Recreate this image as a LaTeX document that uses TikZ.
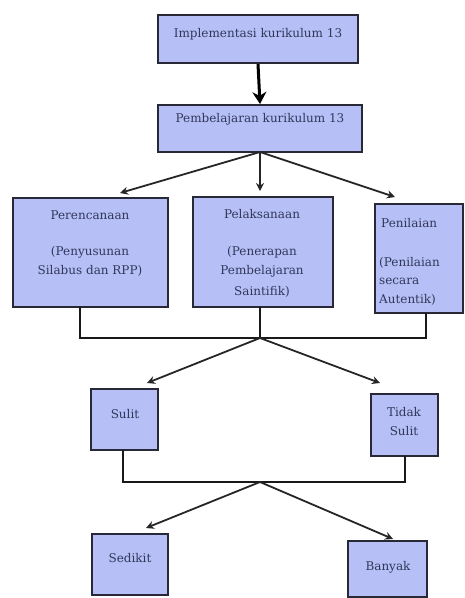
\documentclass[tikz,border=0pt]{standalone}
\usepackage{fontspec}
\setmainfont{DejaVu Serif}
\usetikzlibrary{arrows.meta,positioning}
\definecolor{boxfill}{RGB}{182,192,246}
\definecolor{boxline}{RGB}{40,40,55}
\definecolor{txt}{RGB}{50,55,90}
\tikzset{
  box/.style={draw=boxline,line width=2pt,fill=boxfill,inner sep=0pt},
  lbl/.style={text=txt,font=\fontsize{12}{14}\selectfont,inner sep=0pt,anchor=base},
  arr/.style={draw=black!85,line width=1.8pt,-{Stealth[length=8pt,width=8pt]}},
  bigarr/.style={draw=black,line width=3pt,-{Stealth[length=12pt,width=14pt]}},
  brk/.style={draw=black!90,line width=2.8pt,line cap=rect}
}
\newcommand{\bx}[5]{\node[box,minimum width=#4pt-#2pt,minimum height=#5pt-#3pt] (#1) at ({(#2+#4)/2},{(#3+#5)/2}) {};}
\begin{document}
\begin{tikzpicture}[x=1pt,y=-1pt]
\useasboundingbox (0,0) rectangle (465,598);
% boxes
\bx{impl}{158}{15}{358}{63}
\bx{pemb}{158}{105}{362}{152}
\bx{pere}{13}{198}{168}{307}
\bx{pela}{193}{197}{333}{307}
\bx{peni}{375}{204}{463}{313}
\bx{sulit}{91}{389}{158}{450}
\bx{tidak}{371}{394}{438}{456}
\bx{sedikit}{92}{534}{168}{595}
\bx{banyak}{348}{541}{427}{597}
% texts
\node[lbl] (t1) at (258,37) {Implementasi kurikulum 13};
\node[lbl] (t2) at (260,122) {Pembelajaran kurikulum 13};
\node[lbl] (t3a) at (90,219) {Perencanaan};
\node[lbl] (t3b) at (90,255) {(Penyusunan};
\node[lbl] (t3c) at (90,274) {Silabus dan RPP)};
\node[lbl] (t4a) at (262,218) {Pelaksanaan};
\node[lbl] (t4b) at (262,255) {(Penerapan};
\node[lbl] (t4c) at (262,274) {Pembelajaran};
\node[lbl] (t4d) at (262,295) {Saintifik)};
\node[lbl,anchor=base west] (t5a) at (381,227) {Penilaian};
\node[lbl,anchor=base west] (t5b) at (379,266) {(Penilaian};
\node[lbl,anchor=base west] (t5c) at (379,284) {secara};
\node[lbl,anchor=base west] (t5d) at (379,303) {Autentik)};
\node[lbl] (t6) at (125,418) {Sulit};
\node[lbl] (t7a) at (404,416) {Tidak};
\node[lbl] (t7b) at (404,435) {Sulit};
\node[lbl] (t8) at (130,562) {Sedikit};
\node[lbl] (t9) at (388,570) {Banyak};
% connector points
\coordinate (s2) at (260,152);
\coordinate (e3) at (120,193);
\coordinate (e4) at (260,191);
\coordinate (e5) at (395,197);
\coordinate (j1) at (260,338);
\coordinate (j1l) at (80,338);
\coordinate (j1r) at (426,338);
\coordinate (e6) at (147,383);
\coordinate (e7) at (380,383);
\coordinate (j2) at (260,482);
\coordinate (j2l) at (123,482);
\coordinate (j2r) at (405,482);
\coordinate (e8) at (146,528);
\coordinate (e9) at (393,539);
% connectors
\draw[bigarr] (impl.south) -- (pemb.north);
\draw[arr] (s2) -- (e3);
\draw[arr] (s2) -- (e4);
\draw[arr] (s2) -- (e5);
\draw[brk] (pere.south -| j1l) -- (j1l) -- (j1r) -- (peni.south -| j1r);
\draw[brk] (pela.south -| j1) -- (j1);
\draw[arr] (j1) -- (e6);
\draw[arr] (j1) -- (e7);
\draw[brk] (sulit.south -| j2l) -- (j2l) -- (j2r) -- (tidak.south -| j2r);
\draw[arr] (j2) -- (e8);
\draw[arr] (j2) -- (e9);
\end{tikzpicture}
\end{document}
